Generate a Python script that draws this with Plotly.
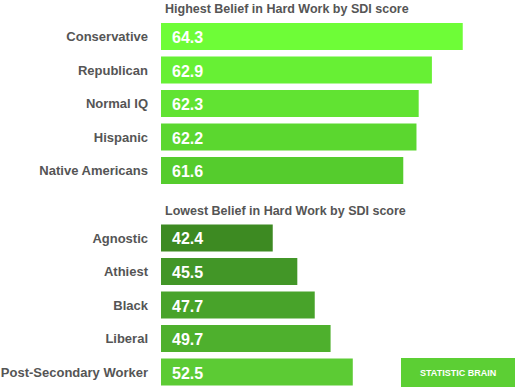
import plotly.graph_objects as go

# ---- data ----
high_categories = ["Conservative", "Republican", "Normal IQ", "Hispanic", "Native Americans"]
high_values = [64.3, 62.9, 62.3, 62.2, 61.6]
low_categories = ["Agnostic", "Athiest", "Black", "Liberal", "Post-Secondary Worker"]
low_values = [42.4, 45.5, 47.7, 49.7, 52.5]
high_title = "Highest Belief in Hard Work by SDI score"
low_title = "Lowest Belief in Hard Work by SDI score"
brand = "STATISTIC BRAIN"

# ---- style ----
high_colors = ["#6efd37", "#67f034", "#61e332", "#5bd72f", "#55cc2d"]
low_colors = ["#3d8a22", "#429627", "#48a32a", "#4eb02d", "#5ccb34"]
W, H = 520, 391
LABEL_FONT = dict(family="Liberation Sans, Arial, sans-serif", size=13, color="#555555")

fig = go.Figure()
fig.add_trace(go.Bar(x=high_values, y=high_categories, orientation="h",
                     marker=dict(color=high_colors, line=dict(width=0)),
                     width=0.8, xaxis="x", yaxis="y", showlegend=False))
fig.add_trace(go.Bar(x=low_values, y=low_categories, orientation="h",
                     marker=dict(color=low_colors, line=dict(width=0)),
                     width=0.8, xaxis="x2", yaxis="y2", showlegend=False))

def py(p):
    return (H - p) / H

x_dom = [161 / W, 1.0]
annotations = []
for cats, vals, xr, yr in [(high_categories, high_values, "x", "y"),
                           (low_categories, low_values, "x2", "y2")]:
    for c, v in zip(cats, vals):
        annotations.append(dict(x=0, xref=f"{xr} domain", y=c, yref=yr,
                                text=f"<b>{v}</b>", showarrow=False,
                                xanchor="left", xshift=9, yshift=-1,
                                font=dict(family="Liberation Sans, Arial, sans-serif",
                                          size=16, color="white")))

TITLE_FONT = dict(family="Liberation Sans, Arial, sans-serif", size=12.5, color="#555555")
annotations.append(dict(x=163 / W, y=py(9), xref="paper", yref="paper",
                        text=f"<b>{high_title}</b>", showarrow=False,
                        xanchor="left", yanchor="middle", font=TITLE_FONT))
annotations.append(dict(x=163 / W, y=py(211), xref="paper", yref="paper",
                        text=f"<b>{low_title}</b>", showarrow=False,
                        xanchor="left", yanchor="middle", font=TITLE_FONT))
annotations.append(dict(x=(401 + 515) / 2 / W, y=py(372.5), xref="paper", yref="paper",
                        text=f"<b>{brand}</b>", showarrow=False,
                        xanchor="center", yanchor="middle",
                        font=dict(family="Liberation Sans Narrow, Arial Narrow, sans-serif", size=9, color="white")))

fig.update_layout(
    width=W, height=H, autosize=False,
    margin=dict(l=0, r=0, t=0, b=0),
    paper_bgcolor="white", plot_bgcolor="white",
    bargap=0.2,
    xaxis=dict(domain=x_dom, range=[50.6, 66.9], visible=False, fixedrange=True),
    xaxis2=dict(domain=x_dom, range=[28.3, 73.6], visible=False, anchor="y2", fixedrange=True),
    yaxis=dict(domain=[py(187.25), py(19.75)], autorange="reversed", anchor="x",
               showgrid=False, zeroline=False, showline=False, ticks="", fixedrange=True,
               ticklabelstandoff=12, tickfont=LABEL_FONT,
               tickvals=high_categories, ticktext=[f"<b>{c}</b>" for c in high_categories]),
    yaxis2=dict(domain=[py(388.75), py(221.25)], autorange="reversed", anchor="x2",
                showgrid=False, zeroline=False, showline=False, ticks="", fixedrange=True,
                ticklabelstandoff=12, tickfont=LABEL_FONT,
                tickvals=low_categories, ticktext=[f"<b>{c}</b>" for c in low_categories]),
    annotations=annotations,
    shapes=[dict(type="rect", xref="paper", yref="paper",
                 x0=401 / W, x1=515 / W, y0=py(387), y1=py(358),
                 fillcolor="#5ccf34", line=dict(width=0), layer="below")],
)

fig.write_html("out.html", config={"displayModeBar": False},
               post_script="document.body.style.margin='0';document.body.style.overflow='hidden';")
